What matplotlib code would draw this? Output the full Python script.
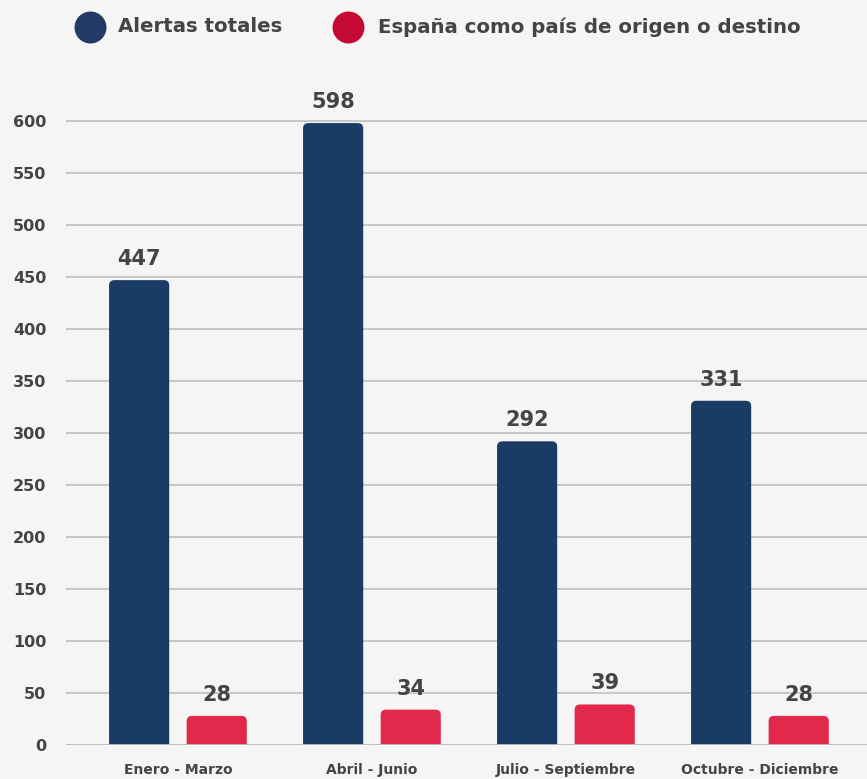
import numpy as np
import matplotlib.pyplot as plt
from matplotlib.patches import FancyBboxPatch
from matplotlib.lines import Line2D

# Données
trimestres = ['Enero - Marzo', 'Abril - Junio', 'Julio - Septiembre', 'Octubre - Diciembre']
alertas_totales = [447, 598, 292, 331]
espana = [28, 34, 39, 28]

color_azul = '#1a3c64'
color_rojo = '#e2294b'
color_texto = '#444444'
fondo = '#f5f5f5'

plt.rcParams['font.family'] = ['DejaVu Sans']

fig = plt.figure(figsize=(8.67, 7.79), dpi=100, facecolor=fondo)
ax = fig.add_axes([66 / 867, 34 / 779, 801 / 867, (658 * 1.04) / 779])
ax.set_facecolor(fondo)

x = np.arange(len(trimestres))
ancho = 0.31

barras_azul = ax.bar(x - 0.2, alertas_totales, ancho, color=color_azul, zorder=3)
barras_rojo = ax.bar(x + 0.2, espana, ancho, color=color_rojo, zorder=3)

# Barres aux coins supérieurs arrondis
r_x = 0.028
r_y = 5.0
for barras in (barras_azul, barras_rojo):
    for b in barras:
        x0, w, h = b.get_x(), b.get_width(), b.get_height()
        p = FancyBboxPatch((x0, -r_y * 2), w, h + r_y * 2,
                           boxstyle=f"round,pad=0,rounding_size={r_x}",
                           mutation_aspect=r_y / r_x,
                           facecolor=b.get_facecolor(), edgecolor='none', zorder=3)
        b.remove()
        ax.add_patch(p)
        ax.annotate(f'{h:.0f}', (x0 + w / 2, h), xytext=(0, 8), textcoords='offset points',
                    ha='center', va='bottom', fontsize=15, fontweight='bold', color=color_texto)

ax.set_xlim(-0.577, 3.552)
ax.set_ylim(0, 658)
ax.set_yticks(np.arange(0, 601, 50))
ax.yaxis.grid(True, color='#c8c8c8', linewidth=1.5, zorder=0)
ax.axhline(0, color='#c0c0c0', linewidth=2, zorder=4)
ax.set_xticks(x)
ax.set_xticklabels(trimestres)
ax.tick_params(axis='both', length=0, labelcolor=color_texto)
ax.tick_params(axis='y', pad=14, labelsize=11.5)
ax.tick_params(axis='x', pad=13, labelsize=10)
for lab in ax.get_xticklabels() + ax.get_yticklabels():
    lab.set_fontweight('bold')
for s in ax.spines.values():
    s.set_visible(False)

# Légende manuelle
fig.add_artist(Line2D([90 / 867], [1 - 27 / 779], marker='o', markersize=22,
                      color='#233a66', transform=fig.transFigure))
fig.text(118 / 867, 1 - 27 / 779, 'Alertas totales', fontsize=14.2, fontweight='bold',
         color=color_texto, va='center', ha='left')
fig.add_artist(Line2D([348 / 867], [1 - 27 / 779], marker='o', markersize=22,
                      color='#c40a33', transform=fig.transFigure))
fig.text(378 / 867, 1 - 27 / 779, 'España como país de origen o destino', fontsize=14.2,
         fontweight='bold', color=color_texto, va='center', ha='left')

fig.savefig('out.png', dpi=100, facecolor=fondo)
